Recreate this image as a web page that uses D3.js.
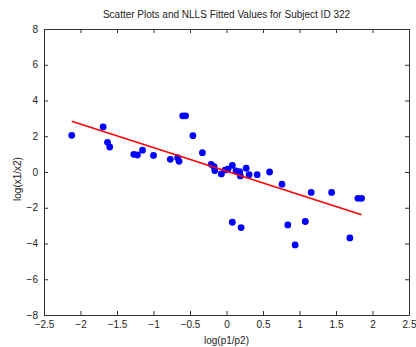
<!DOCTYPE html>
<html>
<head>
<meta charset="utf-8">
<script src="https://cdn.jsdelivr.net/npm/d3@7"></script>
<style>
  body { margin: 0; background: #fff; }
  svg { font-family: "Liberation Sans", Arial, sans-serif; }
</style>
</head>
<body>
<div id="chart"></div>
<script>
// observed log(p1/p2) vs log(x1/x2)
const obsX = [-2.12, -1.69, -1.63, -1.60, -1.27, -1.22, -1.15, -1.00, -0.77, -0.67,
              -0.65, -0.60, -0.56, -0.46, -0.33, -0.21, -0.17, -0.16, -0.07, -0.02,
              0.02, 0.08, 0.13, 0.18, 0.19, 0.27, 0.31, 0.42, 0.59, 0.76,
              1.16, 1.44, 1.80, 1.85, 0.08, 0.20, 0.84, 1.08, 0.94, 1.69];
const obsY = [2.05, 2.52, 1.66, 1.40, 0.99, 0.95, 1.22, 0.93, 0.71, 0.80,
              0.60, 3.14, 3.14, 2.03, 1.08, 0.43, 0.30, 0.08, -0.11, 0.11,
              0.16, 0.37, 0.06, 0.02, -0.22, 0.21, -0.15, -0.15, 0.00, -0.68,
              -1.14, -1.14, -1.47, -1.47, -2.81, -3.11, -2.96, -2.77, -4.08, -3.69];

// NLLS fitted line
const fitX = [-2.12, 1.85];
const fitY = [2.84, -2.39];

const xTicks = [-2.5, -2, -1.5, -1, -0.5, 0, 0.5, 1, 1.5, 2, 2.5];
const yTicks = [-8, -6, -4, -2, 0, 2, 4, 6, 8];

const width = 416, height = 347;
const margin = {top: 29, right: 7, bottom: 32, left: 44};

const svg = d3.select("#chart").append("svg")
    .attr("width", width)
    .attr("height", height);

const x = d3.scaleLinear().domain([-2.5, 2.5]).range([margin.left, width - margin.right]);
const y = d3.scaleLinear().domain([-8, 8]).range([height - margin.bottom, margin.top]);

const pts = obsX.map((v, i) => ({x: v, y: obsY[i]}));

svg.append("g")
    .selectAll("circle")
    .data(pts)
    .join("circle")
    .attr("cx", d => x(d.x))
    .attr("cy", d => y(d.y))
    .attr("r", 3.4)
    .attr("fill", "#0000ff");

svg.append("path")
    .datum(fitX.map((v, i) => [v, fitY[i]]))
    .attr("fill", "none")
    .attr("stroke", "#ff0000")
    .attr("stroke-width", 1.5)
    .attr("d", d3.line().x(d => x(d[0])).y(d => y(d[1])));

// box axes with inward ticks
const tickFmt = d => d3.format("")(d);
const fontSize = "10px";

svg.append("g")
    .attr("transform", `translate(0, ${height - margin.bottom})`)
    .call(d3.axisBottom(x).tickValues(xTicks).tickFormat(tickFmt).tickSizeInner(-4).tickSizeOuter(0).tickPadding(6))
    .call(g => g.selectAll("text").attr("font-size", fontSize).attr("fill", "#222"));

svg.append("g")
    .attr("transform", `translate(0, ${margin.top})`)
    .call(d3.axisTop(x).tickValues(xTicks).tickFormat("").tickSizeInner(-4).tickSizeOuter(0));

svg.append("g")
    .attr("transform", `translate(${margin.left}, 0)`)
    .call(d3.axisLeft(y).tickValues(yTicks).tickFormat(tickFmt).tickSizeInner(-4).tickSizeOuter(0).tickPadding(6))
    .call(g => g.selectAll("text").attr("font-size", fontSize).attr("fill", "#222"));

svg.append("g")
    .attr("transform", `translate(${width - margin.right}, 0)`)
    .call(d3.axisRight(y).tickValues(yTicks).tickFormat("").tickSizeInner(-4).tickSizeOuter(0));

svg.selectAll(".domain").attr("stroke", "#333");
svg.selectAll(".tick line").attr("stroke", "#333");

svg.append("text")
    .attr("x", (margin.left + width - margin.right) / 2)
    .attr("y", 18)
    .attr("text-anchor", "middle")
    .attr("font-size", "10px")
    .attr("fill", "#222")
    .text("Scatter Plots and NLLS Fitted Values for Subject ID 322");

svg.append("text")
    .attr("x", (margin.left + width - margin.right) / 2)
    .attr("y", 344)
    .attr("text-anchor", "middle")
    .attr("font-size", "10px")
    .attr("fill", "#222")
    .text("log(p1/p2)");

svg.append("text")
    .attr("transform", `translate(21, 179) rotate(-90)`)
    .attr("text-anchor", "middle")
    .attr("font-size", "10px")
    .attr("fill", "#222")
    .text("log(x1/x2)");
</script>
</body>
</html>
